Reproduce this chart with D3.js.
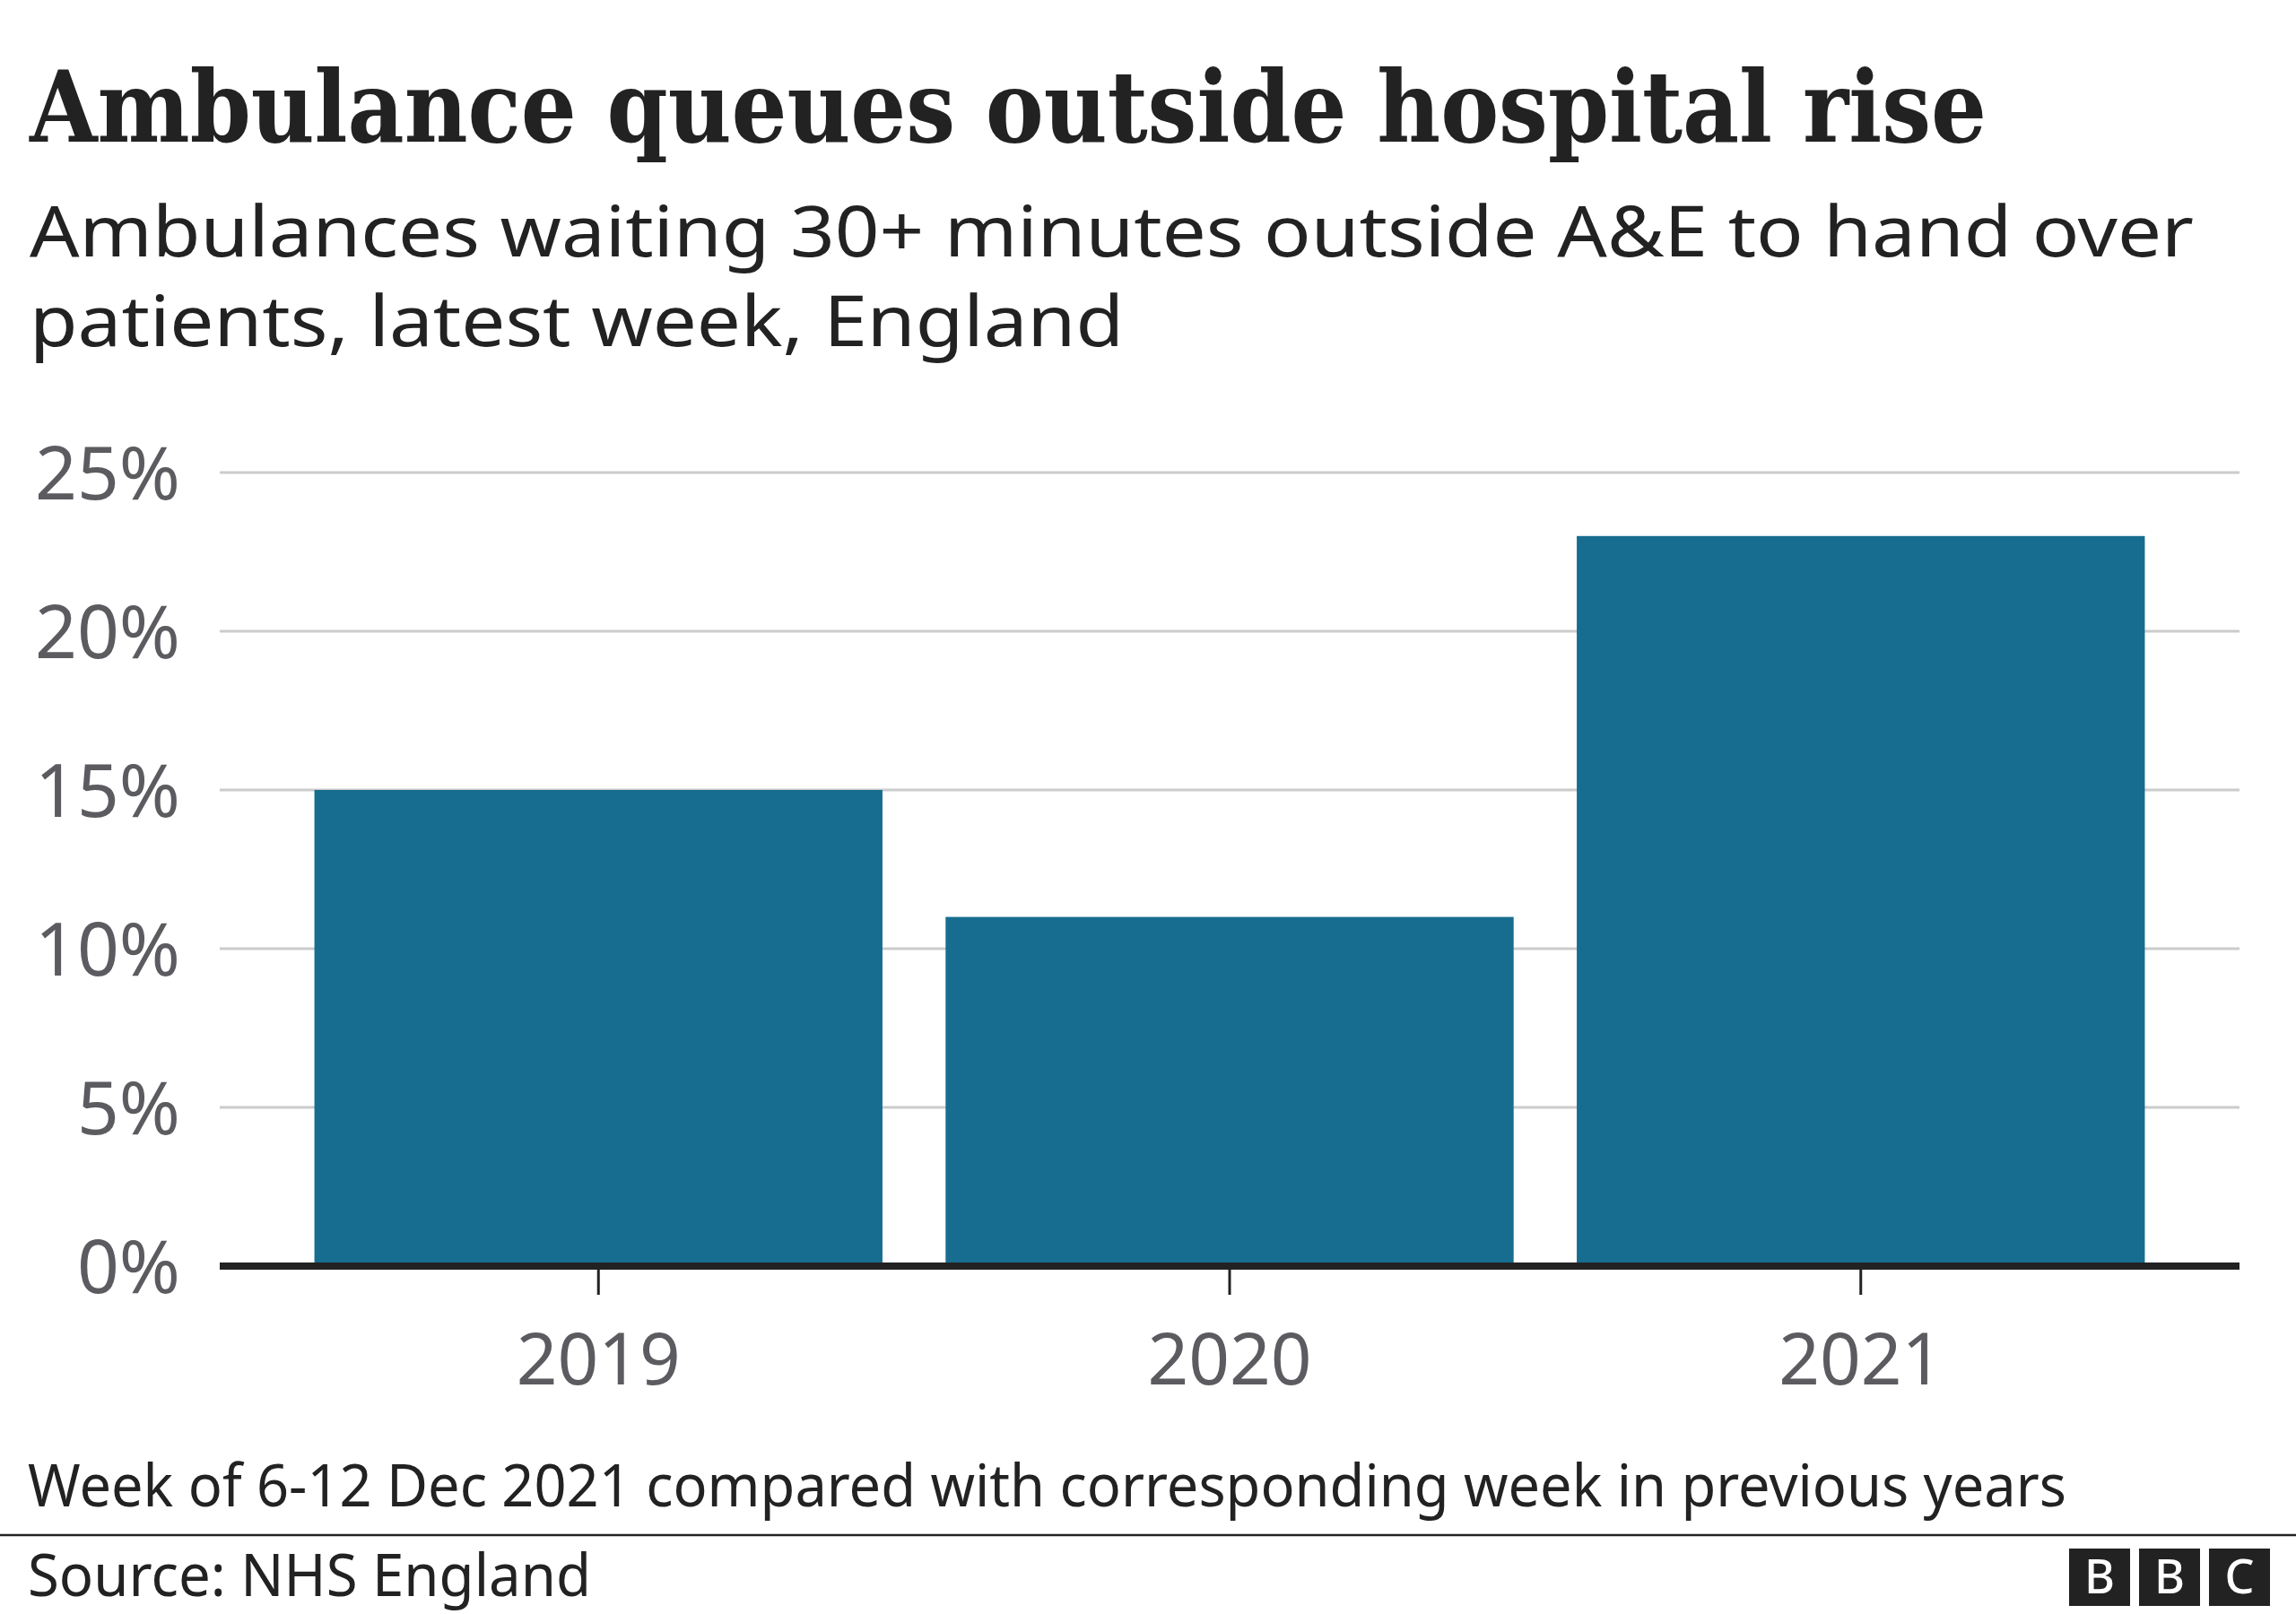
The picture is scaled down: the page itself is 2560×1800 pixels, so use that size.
<!DOCTYPE html>
<html>
<head>
<meta charset="utf-8">
<script src="https://cdn.jsdelivr.net/npm/d3@7"></script>
<style>
  html, body { margin: 0; padding: 0; background: #fff; }
  svg { display: block; }
</style>
</head>
<body>
<svg id="chart" width="2560" height="1800"></svg>
<script>
// ---- Data ----
const years = ["2019", "2020", "2021"];
const values = [15, 11, 23];            // % of ambulances waiting 30+ minutes
const yTicks = [0, 5, 10, 15, 20, 25];
const titleText = "Ambulance queues outside hospital rise";
const subtitleLines = [
  "Ambulances waiting 30+ minutes outside A&E to hand over",
  "patients, latest week, England"
];
const noteText = "Week of 6-12 Dec 2021 compared with corresponding week in previous years";
const sourceText = "Source: NHS England";
const logoLetters = ["B", "B", "C"];

// ---- Layout ----
const W = 2560, H = 1800;
const plot = { left: 245, right: 2497, top: 527, bottom: 1412 };
const barColor = "#176d8f";
const textGrey = "#5b5b60";
const dark = "#222222";
const sans = "'Noto Sans', 'Open Sans', sans-serif";

const svg = d3.select("#chart");
svg.append("rect").attr("width", W).attr("height", H).attr("fill", "#fff");

const x = d3.scaleBand().domain(years).range([plot.left, plot.right])
  .paddingInner(0.1).paddingOuter(0.15);
const y = d3.scaleLinear().domain([0, 25]).range([plot.bottom, plot.top]);

function fit(sel, width) {
  sel.attr("textLength", width).attr("lengthAdjust", "spacingAndGlyphs");
}

// Title
svg.append("text")
  .attr("x", 33).attr("y", 158)
  .attr("font-family", "'DejaVu Serif Condensed', 'DejaVu Serif', serif")
  .attr("font-weight", "bold")
  .attr("font-size", 110)
  .attr("fill", dark)
  .text(titleText)
  .call(fit, 2182);

// Subtitle
const subWidths = [2413, 1220];
subtitleLines.forEach((t, i) => {
  svg.append("text")
    .attr("x", 33).attr("y", 286 + i * 100)
    .attr("font-family", sans)
    .attr("font-size", 78)
    .attr("fill", dark)
    .text(t)
    .call(fit, subWidths[i]);
});

// Y axis labels
const yAxisG = svg.append("g").attr("class", "y-axis")
  .call(d3.axisLeft(y).tickValues(yTicks).tickSize(0).tickFormat(d => d + "%"));
yAxisG.select(".domain").remove();
yAxisG.selectAll(".tick text")
  .attr("x", 201)
  .attr("dy", "0.36em")
  .attr("text-anchor", "end")
  .attr("font-family", sans)
  .attr("font-size", 82)
  .attr("fill", textGrey);

// Gridlines
svg.append("g").selectAll("line")
  .data(yTicks.filter(d => d > 0))
  .join("line")
  .attr("x1", plot.left).attr("x2", plot.right)
  .attr("y1", d => y(d)).attr("y2", d => y(d))
  .attr("stroke", "#cccccc").attr("stroke-width", 3);

// Bars
svg.append("g").selectAll("rect")
  .data(years)
  .join("rect")
  .attr("x", d => x(d))
  .attr("width", x.bandwidth())
  .attr("y", (d, i) => y(values[i]))
  .attr("height", (d, i) => y(0) - y(values[i]))
  .attr("fill", barColor);

// X axis
const xAxisG = svg.append("g").attr("class", "x-axis")
  .attr("transform", `translate(0,${plot.bottom + 4})`)
  .call(d3.axisBottom(x).tickSize(28).tickSizeOuter(0));
xAxisG.select(".domain").remove();
xAxisG.selectAll(".tick line").attr("stroke", dark).attr("stroke-width", 3);
xAxisG.selectAll(".tick text")
  .attr("y", 0).attr("dy", 0)
  .attr("transform", `translate(0,${1544 - plot.bottom - 4})`)
  .attr("font-family", sans)
  .attr("font-size", 80)
  .attr("fill", textGrey);

svg.append("line")
  .attr("x1", plot.left).attr("x2", plot.right)
  .attr("y1", y(0)).attr("y2", y(0))
  .attr("stroke", dark).attr("stroke-width", 8);

// Footnote
svg.append("text")
  .attr("x", 31).attr("y", 1680)
  .attr("font-family", sans)
  .attr("font-size", 66)
  .attr("fill", dark)
  .text(noteText)
  .call(fit, 2273);

// Rule
svg.append("line")
  .attr("x1", 0).attr("x2", W)
  .attr("y1", 1712).attr("y2", 1712)
  .attr("stroke", dark).attr("stroke-width", 2.5);

// Source
svg.append("text")
  .attr("x", 31).attr("y", 1780)
  .attr("font-family", sans)
  .attr("font-size", 66)
  .attr("fill", dark)
  .text(sourceText)
  .call(fit, 628);

// BBC logo
const logo = svg.append("g");
logoLetters.forEach((l, i) => {
  const bx = 2307 + i * 78;
  logo.append("rect").attr("x", bx).attr("y", 1727).attr("width", 68).attr("height", 64).attr("fill", dark);
  logo.append("text")
    .attr("x", bx + 34).attr("y", 1777)
    .attr("text-anchor", "middle")
    .attr("font-family", sans)
    .attr("font-weight", 500)
    .attr("font-size", 52)
    .attr("fill", "#fff")
    .text(l);
});
</script>
</body>
</html>
